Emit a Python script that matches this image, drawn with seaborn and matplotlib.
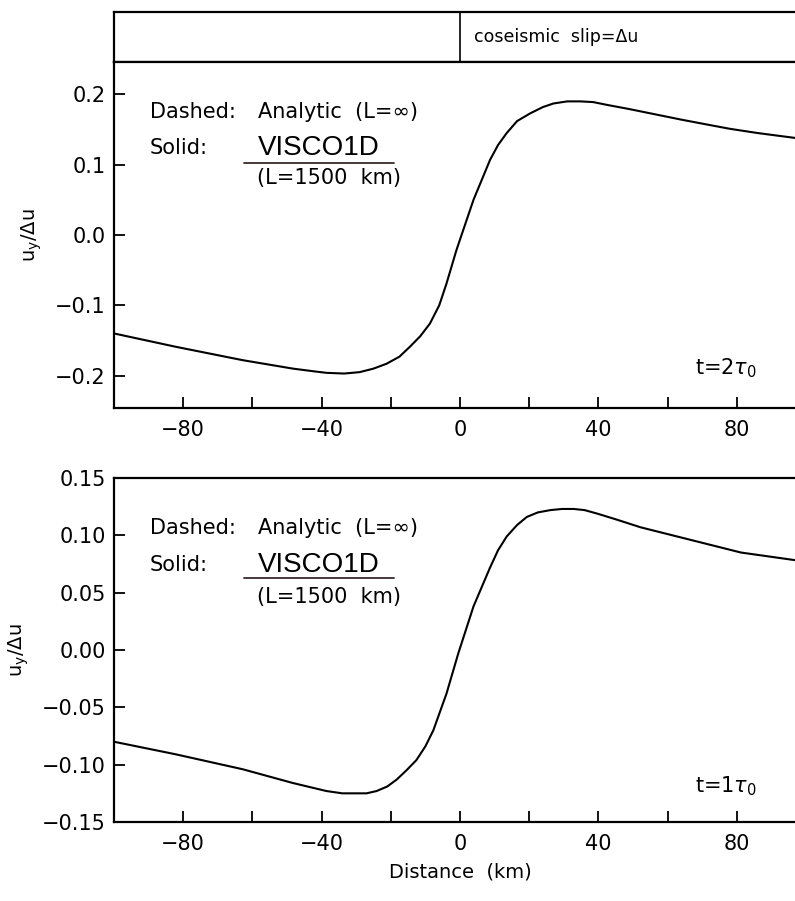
import numpy as np
import pandas as pd
import matplotlib
matplotlib.use("Agg")
import matplotlib.pyplot as plt
import seaborn as sns
from matplotlib.ticker import MultipleLocator

# Datos (u_y / Delta u contra distancia en km)
dist_t2 = [-100, -82.1, -62.8, -48.3, -42.0, -38.6, -33.5, -29.0, -25.0, -21.2, -17.5, -14.5, -11.5,
           -8.7, -6.0, -3.9, -1.0, 3.9, 8.7, 11.0, 13.5, 16.5, 20.3, 24.0, 27.0, 31.0, 34.8, 38.5,
           42.5, 49.0, 57.0, 64.0, 71.5, 78.0, 86.0, 100]
uy_t2 = [-0.140, -0.159, -0.178, -0.190, -0.194, -0.196, -0.197, -0.195, -0.190, -0.183, -0.173, -0.159, -0.144,
         -0.126, -0.100, -0.069, -0.021, 0.050, 0.107, 0.128, 0.145, 0.162, 0.173, 0.182, 0.187, 0.190, 0.190, 0.189,
         0.185, 0.179, 0.171, 0.164, 0.157, 0.151, 0.145, 0.136]

dist_t1 = [-100, -82.1, -62.8, -48.3, -38.6, -34.0, -29.9, -27.0, -24.1, -21.0, -18.3, -15.5, -12.6,
           -10.0, -7.7, -3.9, -0.5, 3.9, 8.7, 11.0, 13.5, 16.5, 19.3, 22.5, 26.1, 29.5, 32.9, 36.0,
           39.6, 45.0, 52.2, 66.7, 81.2, 100]
uy_t1 = [-0.080, -0.091, -0.104, -0.116, -0.123, -0.125, -0.125, -0.125, -0.123, -0.119, -0.113, -0.105, -0.096,
         -0.084, -0.070, -0.038, -0.003, 0.038, 0.072, 0.087, 0.099, 0.109, 0.116, 0.120, 0.122, 0.123, 0.123, 0.122,
         0.119, 0.114, 0.107, 0.096, 0.085, 0.077]

etiquetas_t = [r"t=2$\tau_0$", r"t=1$\tau_0$"]

sns.set_style("ticks")
plt.rcParams["font.family"] = ["DejaVu Sans"]
plt.rcParams["axes.linewidth"] = 1.6
for k in ["text.color", "axes.labelcolor", "xtick.color", "ytick.color", "axes.edgecolor"]:
    plt.rcParams[k] = "black"

fig = plt.figure(figsize=(7.95, 9.01), dpi=100)

left = 114 / 795
width = 692 / 795

# Caja superior (deslizamiento cosismico)
ax_box = fig.add_axes([left, 1 - 62 / 901, width, 50 / 901])
ax_box.set_xlim(-100, 100)
ax_box.set_ylim(0, 1)
ax_box.axvline(0, color="black", lw=1.2)
ax_box.set_xticks([])
ax_box.set_yticks([])
ax_box.text(4, 0.5, "coseismic  slip=Δu", fontsize=12.5, va="center", ha="left")

ax1 = fig.add_axes([left, 1 - 408 / 901, width, 346 / 901])
ax2 = fig.add_axes([left, 1 - 822 / 901, width, 344 / 901])

df1 = pd.DataFrame({"dist": dist_t2, "uy": uy_t2})
df2 = pd.DataFrame({"dist": dist_t1, "uy": uy_t1})

sns.lineplot(data=df1, x="dist", y="uy", ax=ax1, color="black", lw=1.5, sort=True)
sns.lineplot(data=df2, x="dist", y="uy", ax=ax2, color="black", lw=1.5, sort=True)

ax1.set_ylim(-0.246, 0.246)
ax1.set_yticks([-0.2, -0.1, 0.0, 0.1, 0.2])
ax1.set_yticklabels(["\u22120.2", "\u22120.1", "0.0", "0.1", "0.2"])
ax2.set_ylim(-0.15, 0.15)
ax2.set_yticks([-0.15, -0.10, -0.05, 0.0, 0.05, 0.10, 0.15])
ax2.set_yticklabels(["\u22120.15", "\u22120.10", "\u22120.05", "0.00", "0.05", "0.10", "0.15"])

textos = [(ax1, 0.175, 0.124, 0.081, 0.103, -0.19), (ax2, 0.106, 0.074, 0.046, 0.063, -0.119)]
for i, (ax, y_dash, y_sol, y_L, y_sub, y_t) in enumerate(textos):
    ax.set_xlim(-100, 100)
    ax.xaxis.set_minor_locator(MultipleLocator(20))
    ax.set_xticks([-80, -40, 0, 40, 80])
    ax.set_xticklabels(["\u221280", "\u221240", "0", "40", "80"])
    ax.tick_params(axis="both", which="both", direction="in", length=8, width=1.3,
                   labelsize=15, pad=6, top=False, right=False)
    ax.tick_params(axis="x", which="both", pad=9)
    ax.set_ylabel(r"u$_\mathregular{y}$/Δu", fontsize=14, labelpad=8)
    ax.set_xlabel("")
    for sp in ax.spines.values():
        sp.set_visible(True)
        sp.set_linewidth(1.6)

    ax.text(-89.6, y_dash, "Dashed:", fontsize=15, va="center")
    ax.text(-58.4, y_dash, "Analytic  (L=\u221e)", fontsize=15, va="center")
    ax.text(-89.6, y_sol, "Solid:", fontsize=15, va="center")
    ax.text(-58.4, y_sol, "VISCO1D", fontsize=20, va="center", family="Liberation Sans")
    ax.text(-58.6, y_L, "(L=1500  km)", fontsize=15, va="center")
    ax.plot([-62.5, -19.0], [y_sub, y_sub], color="#3a2a2a", lw=1.3)
    ax.text(85.8, y_t, etiquetas_t[i], fontsize=15, ha="right", va="center")

ax2.set_xlabel("Distance  (km)", fontsize=14, labelpad=6)

fig.savefig("out.png", dpi=100)
